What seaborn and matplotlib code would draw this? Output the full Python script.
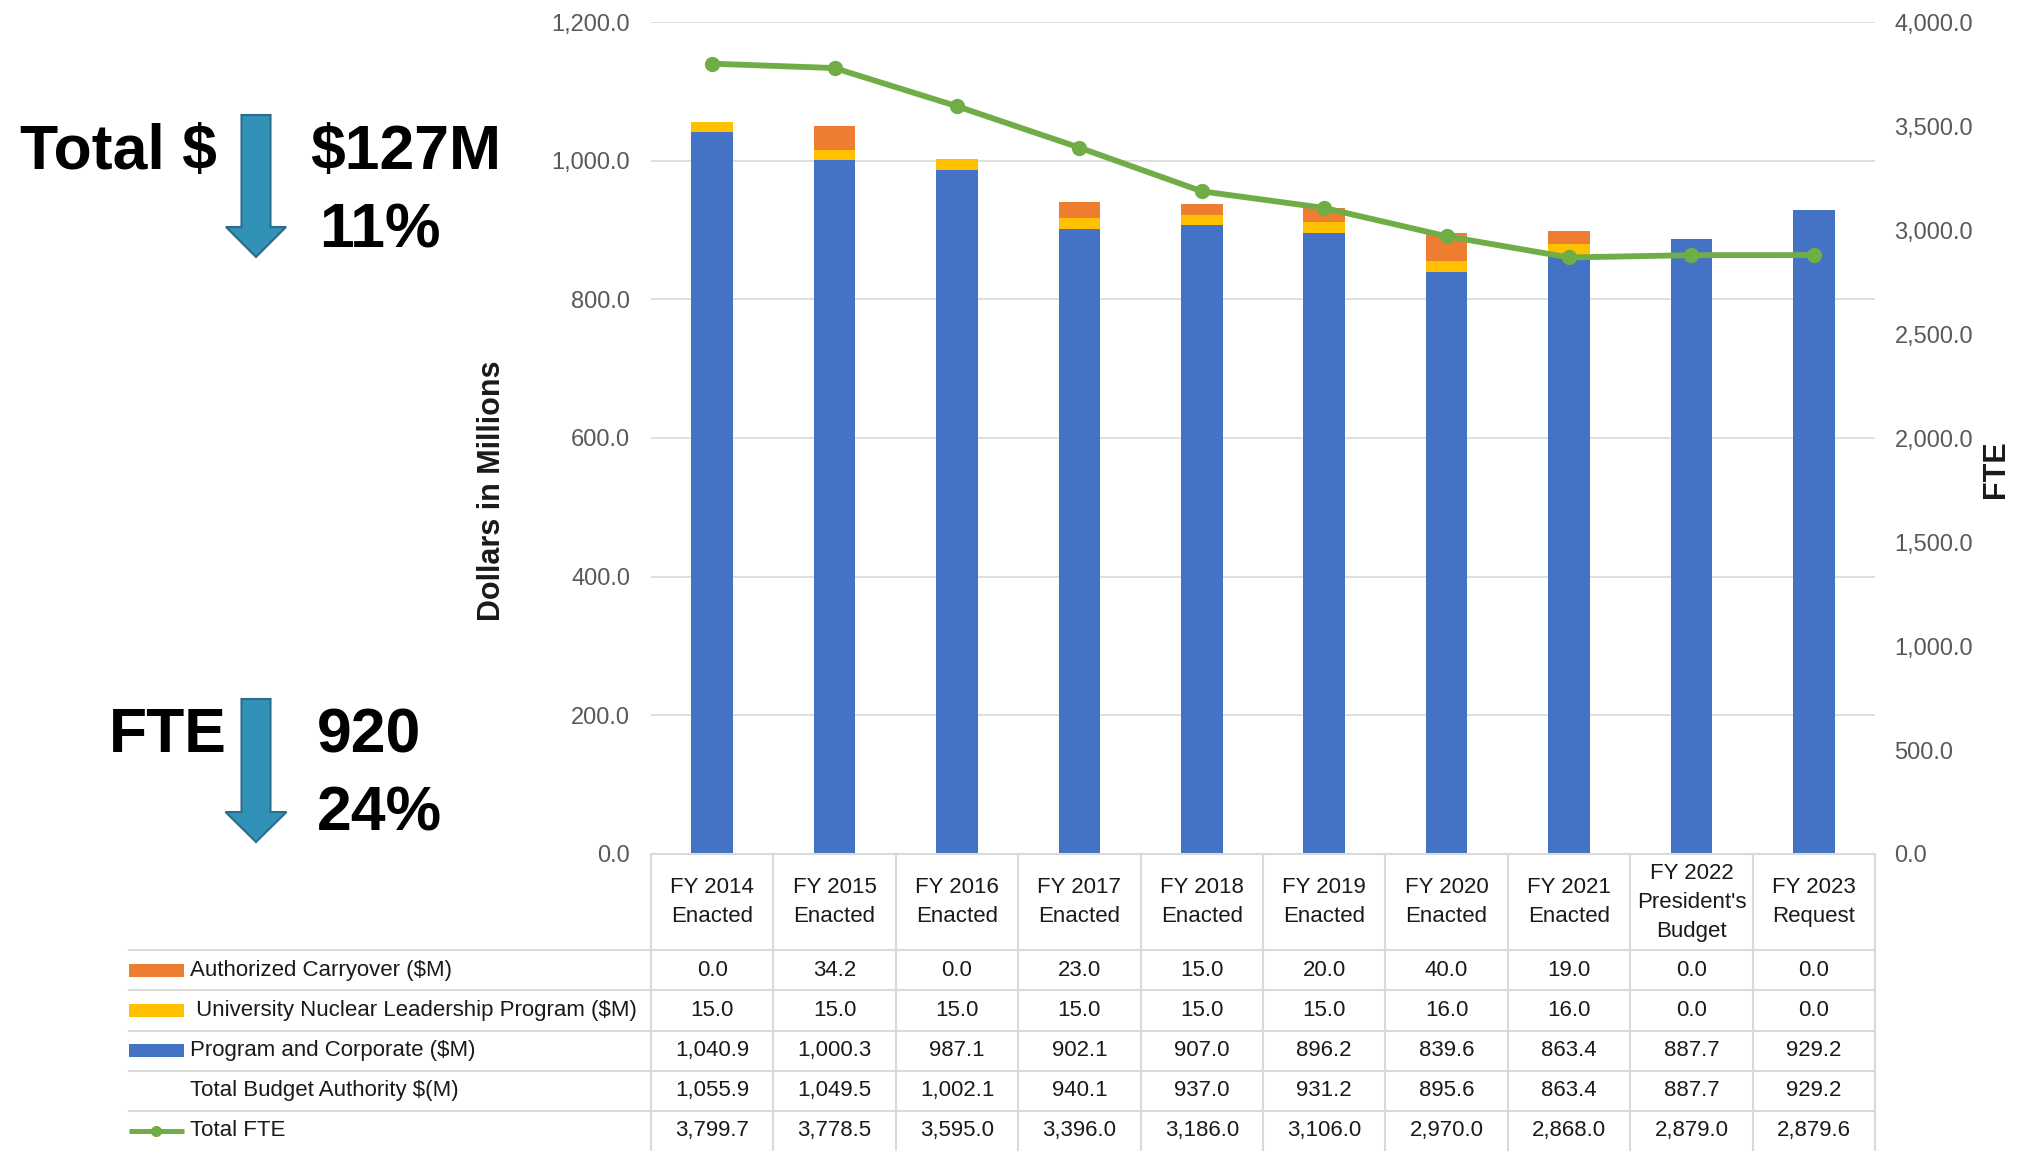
import numpy as np
import matplotlib
matplotlib.use("Agg")
import matplotlib.pyplot as plt
import seaborn as sns
from matplotlib.patches import FancyArrow
from matplotlib.transforms import IdentityTransform

# data
years = ["FY 2014\nEnacted", "FY 2015\nEnacted", "FY 2016\nEnacted", "FY 2017\nEnacted",
         "FY 2018\nEnacted", "FY 2019\nEnacted", "FY 2020\nEnacted", "FY 2021\nEnacted",
         "FY 2022\nPresident's\nBudget", "FY 2023\nRequest"]
carryover = [0.0, 34.2, 0.0, 23.0, 15.0, 20.0, 40.0, 19.0, 0.0, 0.0]
unlp = [15.0, 15.0, 15.0, 15.0, 15.0, 15.0, 16.0, 16.0, 0.0, 0.0]
program = [1040.9, 1000.3, 987.1, 902.1, 907.0, 896.2, 839.6, 863.4, 887.7, 929.2]
total_ba = [1055.9, 1049.5, 1002.1, 940.1, 937.0, 931.2, 895.6, 863.4, 887.7, 929.2]
fte = [3799.7, 3778.5, 3595.0, 3396.0, 3186.0, 3106.0, 2970.0, 2868.0, 2879.0, 2879.6]
row_labels = ["Authorized Carryover ($M)", " University Nuclear Leadership Program ($M)",
              "Program and Corporate ($M)", "Total Budget Authority $(M)", "Total FTE"]

BLUE, YELLOW, ORANGE, GREEN = "#4472C4", "#FFC000", "#ED7D31", "#70AD47"
GRID = "#D9D9D9"
TICK = "#595959"
TXT = "#1a1a1a"

sns.set_theme(style="white")
plt.rcParams["font.family"] = ["Liberation Sans", "DejaVu Sans"]

W, H = 2028, 1151
fig = plt.figure(figsize=(W / 100, H / 100), dpi=100)

# main plot area
L, R, T, B = 651, 1875, 22, 854
ax = fig.add_axes([L / W, 1 - B / H, (R - L) / W, (B - T) / H])

stack2 = np.array(program) + np.array(unlp)
stack3 = stack2 + np.array(carryover)
sns.barplot(x=years, y=stack3, color=ORANGE, width=0.34, saturation=1, linewidth=0, ax=ax)
sns.barplot(x=years, y=stack2, color=YELLOW, width=0.34, saturation=1, linewidth=0, ax=ax)
sns.barplot(x=years, y=program, color=BLUE, width=0.34, saturation=1, linewidth=0, ax=ax)

ax.set_ylim(0, 1200)
ax.set_yticks(np.arange(0, 1201, 200))
ax.set_yticklabels([f"{v:,.1f}" for v in np.arange(0, 1201, 200)])
ax.tick_params(axis="y", length=0, pad=15, labelsize=17, labelcolor=TICK)
ax.tick_params(axis="x", bottom=False, labelbottom=False)
ax.grid(axis="y", color=GRID, lw=1.2)
ax.set_axisbelow(True)
for s in ax.spines.values():
    s.set_visible(False)
ax.set_xlabel("")
ax.set_ylabel("Dollars in Millions", fontsize=22, fontweight="bold", color=TXT)
ax.yaxis.set_label_coords(-0.118, 0.436)

ax2 = ax.twinx()
sns.lineplot(x=np.arange(len(years)), y=fte, ax=ax2, color=GREEN, lw=4.2, marker="o",
             markersize=11, markeredgecolor=GREEN, markeredgewidth=0, sort=False)
ax2.set_ylim(0, 4000)
ax2.set_yticks(np.arange(0, 4001, 500))
ax2.set_yticklabels([f"{v:,.1f}" for v in np.arange(0, 4001, 500)])
ax2.tick_params(axis="y", length=0, pad=14, labelsize=17, labelcolor=TICK)
ax2.grid(False)
for s in ax2.spines.values():
    s.set_visible(False)
ax2.set_ylabel("FTE", fontsize=22, fontweight="bold", color=TXT)
ax2.yaxis.set_label_coords(1.087, 0.462)
ax.set_xlim(-0.5, len(years) - 0.5)

# data table under the bars
TL = 129
axt = fig.add_axes([TL / W, 0, (R - TL) / W, (H - B) / H])
col_w = (R - L) / len(years)
x_left = -0.5 - (L - TL) / col_w
axt.set_xlim(x_left, len(years) - 0.5)
hdr = 2.4
axt.set_ylim(hdr + len(row_labels), 0)
axt.axis("off")

n = len(years)
for k in range(n + 1):
    axt.plot([k - 0.5, k - 0.5], [0, hdr + len(row_labels)], color=GRID, lw=1.5, clip_on=False)
axt.plot([-0.5, n - 0.5], [0, 0], color=GRID, lw=1.5, clip_on=False)
for r in range(len(row_labels)):
    axt.plot([x_left, n - 0.5], [hdr + r, hdr + r], color=GRID, lw=1.5, clip_on=False)

for i, lab in enumerate(years):
    axt.text(i, hdr / 2, lab, ha="center", va="center", fontsize=16, color=TXT, linespacing=1.5)

rows = [carryover, unlp, program, total_ba, fte]
key_w = 55 / col_w
for r, (lab, vals) in enumerate(zip(row_labels, rows)):
    yc = hdr + r + 0.5
    for i, v in enumerate(vals):
        axt.text(i, yc, f"{v:,.1f}", ha="center", va="center", fontsize=16, color=TXT)
    axt.text(x_left + key_w + 6 / col_w, yc, lab, ha="left", va="center", fontsize=16, color=TXT)

for r, c in zip(range(3), [ORANGE, YELLOW, BLUE]):
    axt.fill_between([x_left, x_left + key_w], hdr + r + 0.34, hdr + r + 0.66, color=c, lw=0)
yl = hdr + 4.5
axt.plot([x_left, x_left + key_w], [yl, yl], color=GREEN, lw=3.6, solid_capstyle="butt")
axt.plot([x_left + key_w / 2], [yl], "o", color=GREEN, markersize=7)

# call-outs on the left
ARROW_FC, ARROW_EC = "#3291B6", "#2B6D8A"
for top, tip, hw in [(115, 257, 60), (699, 842, 61)]:
    fig.add_artist(FancyArrow(256, H - top, 0, -(tip - top), width=29, head_width=hw,
                              head_length=30, length_includes_head=True,
                              transform=IdentityTransform(), fc=ARROW_FC, ec=ARROW_EC, lw=1.5))

big = dict(fontsize=45, fontweight="bold", color="black", va="center", ha="left")
fig.text(20 / W, 1 - 153 / H, "Total $", **big)
fig.text(310 / W, 1 - 153 / H, "$127M", **big)
fig.text(319 / W, 1 - 231 / H, "11%", **big)
fig.text(109 / W, 1 - 736 / H, "FTE", **big)
fig.text(317 / W, 1 - 736 / H, "920", **big)
fig.text(317 / W, 1 - 814 / H, "24%", **big)

fig.savefig("out.png", dpi=100)
